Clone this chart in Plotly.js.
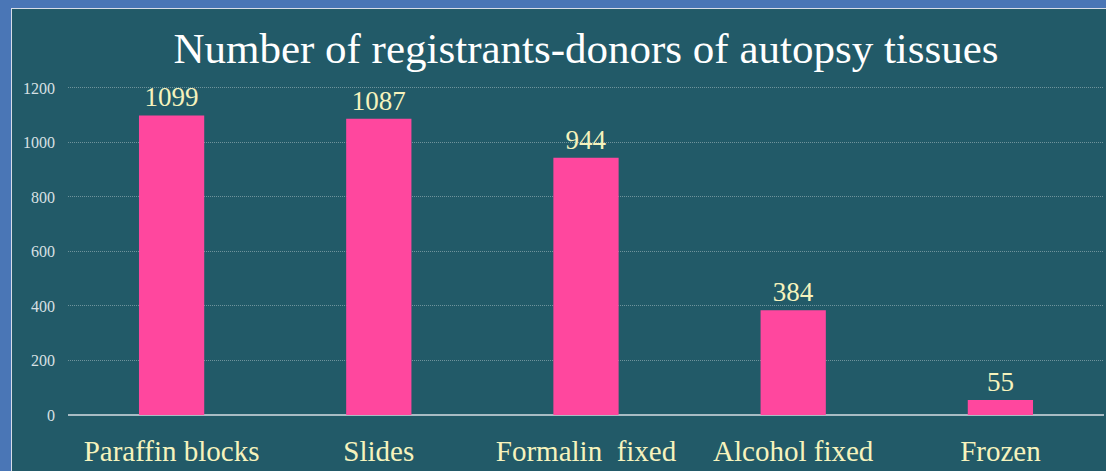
<!DOCTYPE html>
<html>
<head>
<meta charset="utf-8">
<script src="https://cdn.plot.ly/plotly-3.0.1.min.js"></script>
<style>
  html, body { margin: 0; padding: 0; background: #4a76b6; width: 1106px; height: 471px; overflow: hidden; }
  #frame { position: absolute; left: 11px; top: 8px; width: 1095px; height: 463px;
           border-left: 1px solid #d8dde8; border-top: 1px solid #d8dde8; background: #225a68; }
  #chart { width: 1094px; height: 462px; }
</style>
</head>
<body>
<div id="frame"><div id="chart"></div></div>
<script>
var categories = ['Paraffin blocks', 'Slides', 'Formalin  fixed', 'Alcohol fixed', 'Frozen'];
var donors = [1099, 1087, 944, 384, 55];
var yTicks = [0, 200, 400, 600, 800, 1000, 1200];

var serif = 'Liberation Serif, Times New Roman, serif';

var data = [{
  type: 'bar',
  x: categories,
  y: donors,
  text: donors.map(String),
  textposition: 'outside',
  cliponaxis: false,
  textfont: { family: serif, size: 27, color: '#f6f3bd' },
  marker: { color: '#ff479e' },
  width: 0.315,
  hoverinfo: 'none'
}];

var layout = {
  width: 1094,
  height: 462,
  margin: { l: 56, r: 2, t: 77, b: 56 },
  paper_bgcolor: '#225a68',
  plot_bgcolor: '#225a68',
  showlegend: false,
  title: {
    text: 'Number of registrants-donors of autopsy tissues',
    font: { family: serif, size: 43, color: '#ffffff' },
    x: 0.5, xref: 'paper', xanchor: 'center',
    y: 1 - 39 / 462, yref: 'container', yanchor: 'middle'
  },
  xaxis: {
    type: 'category',
    tickfont: { family: serif, size: 29, color: '#f6f3bd' },
    ticklabelstandoff: 16,
    showgrid: false,
    showline: false,
    zeroline: false,
    ticks: ''
  },
  yaxis: {
    range: [0, 1207],
    tickvals: yTicks,
    ticktext: yTicks.map(String),
    tickfont: { family: serif, size: 16, color: '#d8e0e4' },
    ticklabelstandoff: 12,
    ticks: '',
    showgrid: true,
    gridcolor: '#6f939c',
    griddash: '1px,1px',
    gridwidth: 1,
    zeroline: true,
    zerolinecolor: '#a9bcc4',
    zerolinewidth: 2
  }
};

Plotly.newPlot('chart', data, layout, { displayModeBar: false, staticPlot: true });
</script>
</body>
</html>
